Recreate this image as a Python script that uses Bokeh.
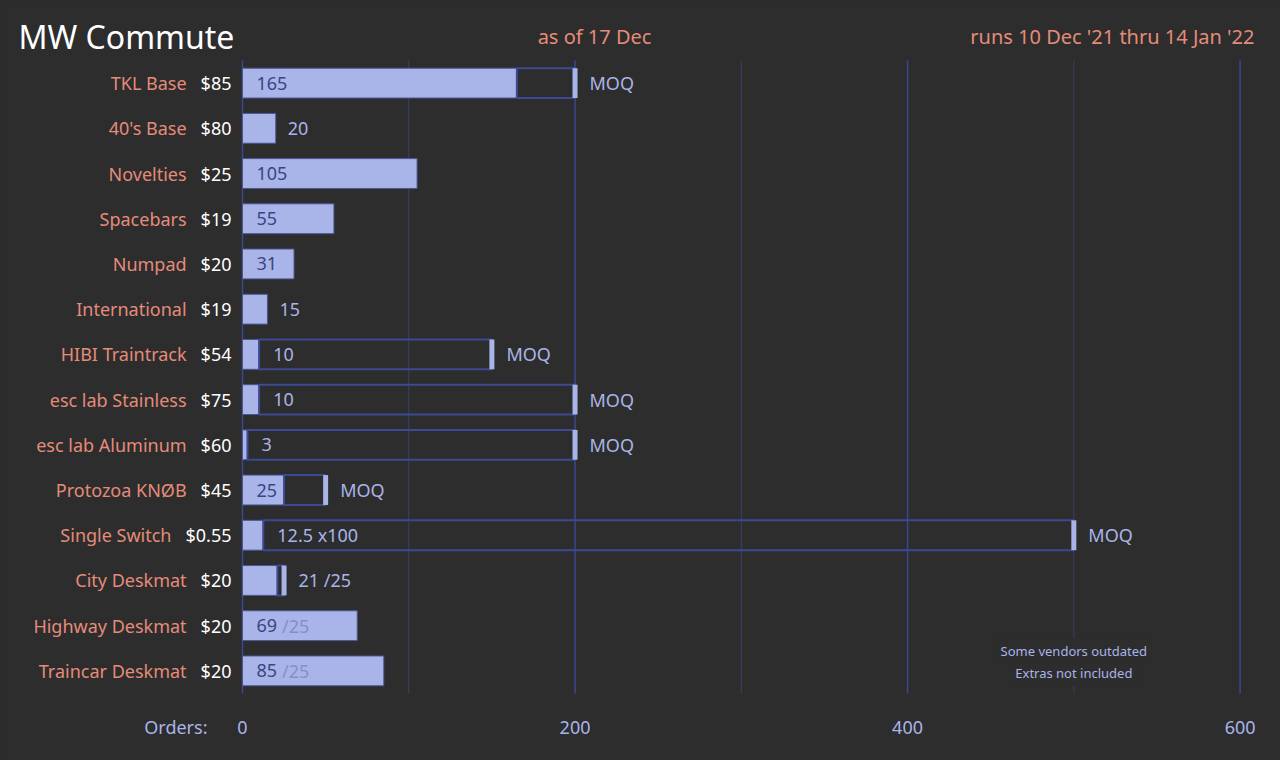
from bokeh.plotting import figure
from bokeh.models import ColumnDataSource, Label, Range1d
from bokeh.embed import file_html
from bokeh.resources import INLINE
from bokeh.core.properties import value

# ---------------- data ----------------
items = ["TKL Base", "40's Base", "Novelties", "Spacebars", "Numpad", "International",
         "HIBI Traintrack", "esc lab Stainless", "esc lab Aluminum", "Protozoa KNØB",
         "Single Switch", "City Deskmat", "Highway Deskmat", "Traincar Deskmat"]
prices = ["$85", "$80", "$25", "$19", "$20", "$19", "$54", "$75", "$60", "$45",
          "$0.55", "$20", "$20", "$20"]
orders = [165, 20, 105, 55, 31, 15, 10, 10, 3, 25, 12.5, 21, 69, 85]
order_labels = ["165", "20", "105", "55", "31", "15", "10", "10", "3", "25",
                "12.5 x100", "21", "69", "85"]
moq = [200, None, None, None, None, None, 150, 200, 200, 50, 500, 25, 25, 25]
moq_labels = ["MOQ", "", "", "", "", "", "MOQ", "MOQ", "MOQ", "MOQ", "MOQ", "/25", "/25", "/25"]

x_ticks = [0, 200, 400, 600]
x_minor_ticks = [100, 300, 500]
tick_labels = ["0", "200", "400", "600"]
title_text = "MW Commute"
asof_text = "as of 17 Dec"
runs_text = "runs 10 Dec '21 thru 14 Jan '22"
axis_caption = "Orders:"
note_lines = ["Some vendors outdated", "Extras not included"]
note_x = 500

# ---------------- styles ----------------
BG = "#2d2d2d"
LAV = "#a9b4e9"
DARK = "#3a4583"
SALMON = "#e58b79"
WHITE = "#ffffff"
GRID_MAJ = "#3a4793"
GRID_MIN = "#3a3f6c"
OUTLINE = "#3b4a92"
SUFFIX = "#8590c8"
FONT = "Noto Sans"
FS = 18
FSP = f"{FS}px"

W = {c: 0.572 for c in "0123456789$"}
W.update({".": 0.268, " ": 0.26, "x": 0.524, "/": 0.372})


def text_w(s, size=FS):
    return sum(W.get(c, 0.56) for c in s) * size


WIDTH, HEIGHT = 1280, 760
x_range = Range1d(-145.55, 624.3)
y_range = Range1d(-1.982, 14.827)
ppu = WIDTH / (x_range.end - x_range.start)
BAR_H = 0.66
MARK_W = 5
n = len(items)
rows = [n - 1 - i for i in range(n)]          # top item first
row_top, row_bottom = n - 0.5, -0.5
tick_row = -1.252
header_row = 14.03

p = figure(width=WIDTH, height=HEIGHT, x_range=x_range, y_range=y_range,
           x_axis_location=None, y_axis_location=None, min_border=0,
           output_backend="svg", toolbar_location=None,
           background_fill_color=BG, border_fill_color=BG)
p.outline_line_color = None
p.grid.visible = False

# grid lines over the rows area
p.segment(x0=x_minor_ticks, x1=x_minor_ticks, y0=row_bottom, y1=row_top,
          line_color=GRID_MIN, line_width=1)
p.segment(x0=x_ticks, x1=x_ticks, y0=row_bottom, y1=row_top,
          line_color=GRID_MAJ, line_width=1.5)

# filled bars
p.hbar(y=rows, left=0, right=orders, height=BAR_H,
       fill_color=LAV, line_color="#4b5592", line_width=1)

# outlines up to MOQ + MOQ markers
o_y, o_l, o_r, m_x, m_y = [], [], [], [], []
for r, o, m in zip(rows, orders, moq):
    if m is not None and m > o:
        o_y.append(r); o_l.append(o); o_r.append(m)
    if m is not None and m >= o:
        m_x.append(m); m_y.append(r)
p.hbar(y=o_y, left=o_l, right=o_r, height=BAR_H, fill_color=None,
       line_color=OUTLINE, line_width=2)
p.rect(x=m_x, y=m_y, width=MARK_W, width_units="screen", height=BAR_H,
       fill_color=LAV, line_color=None)

# value labels
v = dict(x=[], y=[], text=[], xo=[], color=[])
for r, o, lab, m, ml in zip(rows, orders, order_labels, moq, moq_labels):
    suffix = ml if ml.startswith("/") else ""
    tw = text_w(lab)
    if o * ppu >= 14 + tw + 4:
        v["x"].append(0); v["y"].append(r); v["text"].append(lab)
        v["xo"].append(14); v["color"].append(DARK)
        if suffix:
            v["x"].append(0); v["y"].append(r); v["text"].append(suffix)
            v["xo"].append(14 + tw + 5); v["color"].append(SUFFIX)
    elif m is not None and m > o and (m - o) * ppu >= 14 + tw + 10:
        v["x"].append(o); v["y"].append(r); v["text"].append(lab)
        v["xo"].append(14); v["color"].append(LAV)
    else:
        txt = lab + (" " + suffix if suffix else "")
        if m is not None and m >= o:
            v["x"].append(m); v["xo"].append(MARK_W / 2 + 12)
        else:
            v["x"].append(o); v["xo"].append(12)
        v["y"].append(r); v["text"].append(txt); v["color"].append(LAV)
p.text(x="x", y="y", text="text", x_offset="xo", text_color="color",
       source=ColumnDataSource(v), text_align="left", text_baseline="middle",
       text_font=value(FONT), text_font_size=FSP)

# MOQ labels
mq = dict(x=[], y=[], text=[])
for r, m, ml in zip(rows, moq, moq_labels):
    if ml == "MOQ":
        mq["x"].append(m); mq["y"].append(r); mq["text"].append(ml)
p.text(x="x", y="y", text="text", source=ColumnDataSource(mq),
       x_offset=MARK_W / 2 + 12, text_align="left", text_baseline="middle",
       text_color=LAV, text_font=value(FONT), text_font_size=FSP)

# names and prices, left of zero
lab_src = ColumnDataSource(dict(
    x=[0] * n, y=rows, price=prices, name=items,
    name_xo=[-(11 + text_w(pr) + 14) for pr in prices]))
p.text(x="x", y="y", text="price", source=lab_src, x_offset=-11,
       text_align="right", text_baseline="middle", text_color=WHITE,
       text_font=value(FONT), text_font_size=FSP)
p.text(x="x", y="y", text="name", source=lab_src, x_offset="name_xo",
       text_align="right", text_baseline="middle", text_color=SALMON,
       text_font=value(FONT), text_font_size=FSP)

# x tick labels and caption
p.text(x=x_ticks, y=[tick_row] * len(x_ticks), text=tick_labels,
       text_align="center", text_baseline="middle", text_color=LAV,
       text_font=value(FONT), text_font_size=FSP)
p.text(x=[0], y=[tick_row], text=[axis_caption], x_offset=-35,
       text_align="right", text_baseline="middle", text_color=LAV,
       text_font=value(FONT), text_font_size=FSP)

# header
p.text(x=[0], y=[header_row], text=[title_text], x_offset=-224,
       text_align="left", text_baseline="middle", text_color=WHITE,
       text_font=value(FONT), text_font_size="32px")
p.text(x=[0], y=[header_row], text=[asof_text], x_offset=352,
       text_align="center", text_baseline="middle", text_color=SALMON,
       text_font=value(FONT), text_font_size="20px")
p.text(x=[0], y=[header_row], text=[runs_text], x_offset=1012,
       text_align="right", text_baseline="middle", text_color=SALMON,
       text_font=value(FONT), text_font_size="20px")

# note (background hides the grid line behind it)
for line, yy in zip(note_lines, [0.45, -0.04]):
    p.add_layout(Label(x=note_x, y=yy, text=line, text_align="center",
                       text_baseline="middle", text_color=LAV, text_font=FONT,
                       text_font_size="13px", background_fill_color=BG, padding=4))

html = file_html(p, INLINE)
html = html.replace("</head>",
                    f"<style>html, body {{ background-color: {BG}; }}</style></head>", 1)
open("out.html", "w").write(html)
